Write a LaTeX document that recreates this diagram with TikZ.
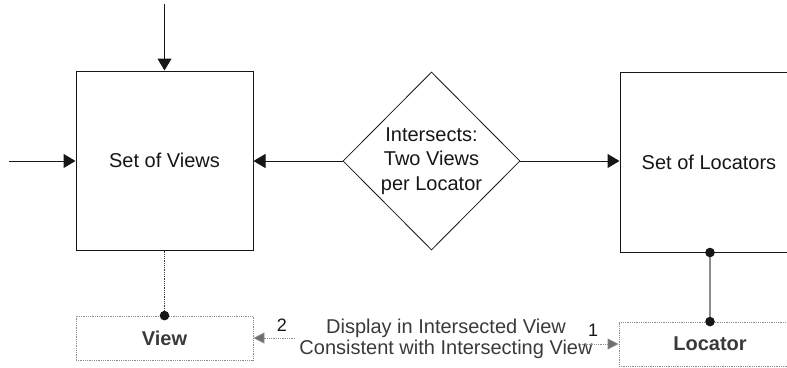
\documentclass[tikz,border=0pt]{standalone}
\usepackage{fontspec}
\setmainfont{Liberation Sans}
\usepackage{xcolor}
\usepackage{tikz}
\usetikzlibrary{arrows.meta,shapes.geometric}
\definecolor{erink}{HTML}{161616}
\definecolor{ergrey}{HTML}{8C8C8C}
\definecolor{erdark}{HTML}{3A3A3A}
\definecolor{ertip}{HTML}{6E6E6E}

\begin{document}
\begin{tikzpicture}[x=1pt,y=-1pt,
  setbox/.style={draw=erink,line width=1pt,inner sep=0pt,font=\fontsize{20}{24}\selectfont,text=erink},
  itembox/.style={draw=ergrey,densely dotted,line width=0.8pt,inner sep=0pt,minimum height=44pt,font=\bfseries\fontsize{20}{24}\selectfont,text=erdark},
  flow/.style={-{Triangle[length=12pt,width=14pt]},erink,line width=1pt},
  note/.style={-{Triangle[length=11pt,width=11pt,fill=ertip]},draw=ergrey,densely dotted,line width=0.8pt},
  num/.style={font=\fontsize{18}{20}\selectfont,text=erink,inner sep=0pt},
  dot/.style={fill=erink}]
\useasboundingbox (0,0) rectangle (787,367);
\clip (0,0) rectangle (787,367);
% the two sets and the rule between them
\node[setbox,minimum width=177pt,minimum height=179pt] (views) at (164.5,160.5) {Set of Views};
\node[setbox,minimum width=178pt,minimum height=180pt] (locators) at (709,162) {Set of Locators};
\node[diamond,draw=erink,line width=0.8pt,inner sep=0pt,minimum width=177pt,minimum height=178pt,
  align=center,font=\fontsize{20}{24.5}\selectfont,text=erink] (meet) at (431.5,161) {Intersects:\\Two Views\\per Locator};
\coordinate (intop) at (164.5,4);
\coordinate (inleft) at (9,161);
\draw[flow] (intop) -- (views.north);
\draw[flow] (inleft) -- (inleft -| views.west);
\draw[flow] (meet.west) -- (meet.west -| views.east);
\draw[flow] (meet.east) -- (meet.east -| locators.west);
% single members
\node[itembox,minimum width=177pt] (view) at (164.5,338) {View};
\node[itembox,minimum width=182pt] (locator) at (710,344) {Locator};
\draw[erdark,densely dotted,line width=0.8pt] (views.south) -- (view.north);
\fill[dot] (view.north) circle[radius=4.8pt];
\draw[ergrey,line width=1.2pt] (locators.south -| locator.north) -- (locator.north);
\fill[dot] (locators.south -| locator.north) circle[radius=4.8pt];
\fill[dot] (locator.north) circle[radius=4.8pt];
% display constraint
\node[align=center,inner sep=0pt,font=\fontsize{20}{21}\selectfont,text=erdark] (rule) at (446,339)
  {Display in Intersected View\\Consistent with Intersecting View};
\coordinate (tailtwo) at (295,338);
\coordinate (tailone) at (578,344);
\draw[note] (tailtwo) -- (view.east);
\draw[note] (tailone) -- (locator.west);
\node[num] (ntwo) at (282,325) {2};
\node[num] (none) at (593,330) {1};
\end{tikzpicture}
\end{document}
